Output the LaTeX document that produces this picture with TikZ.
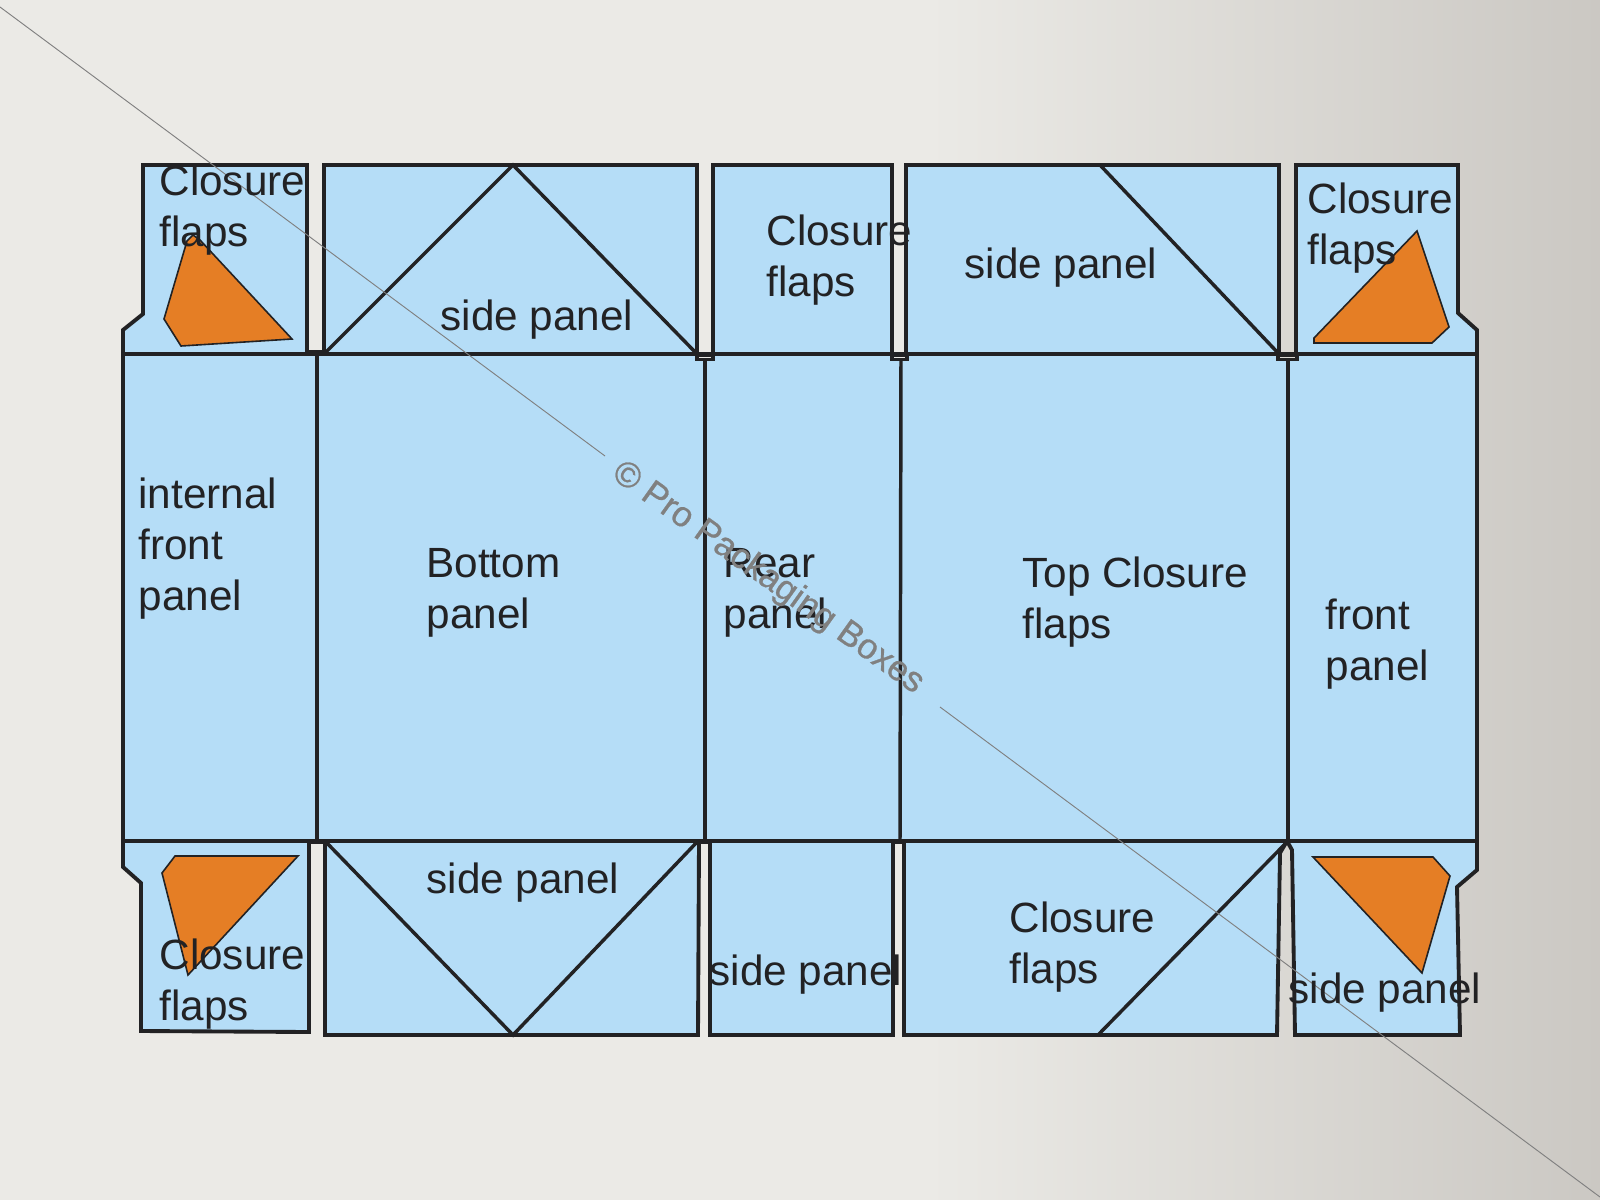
\documentclass[tikz,border=0pt]{standalone}
\usepackage{fontspec}
\setmainfont{Liberation Sans}
\newfontfamily\markfont[FakeBold=0.8]{Liberation Sans}
\definecolor{wallLight}{RGB}{235,234,230}
\definecolor{wallDark}{RGB}{203,200,195}
\definecolor{panelBlue}{RGB}{181,221,247}
\definecolor{flapOrange}{RGB}{229,126,37}
\definecolor{inkDark}{RGB}{34,34,36}
\definecolor{markGray}{RGB}{128,128,128}
\pgfdeclarehorizontalshading{wallShade}{100bp}{color(0bp)=(wallLight); color(54bp)=(wallLight); color(75bp)=(wallDark); color(100bp)=(wallDark)}
\tikzset{every picture/.style={line width=0.75pt}}
\tikzset{
  panel/.style={draw=inkDark,line width=2.9pt,fill=panelBlue,line join=miter},
  fold/.style={draw=inkDark,line width=2.6pt},
  slot/.style={draw=inkDark,line width=2.6pt,fill=wallLight},
  wedge/.style={draw=inkDark,line width=1.2pt,fill=flapOrange,line join=miter},
  label/.style={anchor=base west,inner sep=0pt,align=left,text=inkDark,font=\fontsize{31.7}{38.25}\selectfont},
  hairline/.style={draw=markGray,line width=0.7pt},
}

\begin{document}
\begin{tikzpicture}[x=0.75pt,y=0.75pt,yscale=-1,xscale=1]
\useasboundingbox (0,0) rectangle (1600,1200);

%Shape: Rectangle (background)
\shade [shading=wallShade] (0,0) rectangle (1600,1200);

%Shape: Polygon (top flaps)
\draw [panel] (143,165) -- (307,165) -- (307,354) -- (123,354) -- (123,330) -- (143,314) -- cycle ;
\draw [panel] (324,165) -- (697,165) -- (697,354) -- (324,354) -- cycle ;
\draw [panel] (713,165) -- (892,165) -- (892,354) -- (713,354) -- cycle ;
\draw [panel] (906,165) -- (1279,165) -- (1279,354) -- (906,354) -- cycle ;
\draw [panel] (1296,165) -- (1458,165) -- (1458,313) -- (1477,330) -- (1477,354) -- (1296,354) -- cycle ;

%Shape: Polygon (bottom flaps)
\draw [panel] (123,841) -- (309,841) -- (309,1032) -- (141,1031) -- (141,883) -- (123,867) -- cycle ;
\draw [panel] (325,841) -- (699,841) -- (698,1035) -- (325,1035) -- cycle ;
\draw [panel] (710,841) -- (893,841) -- (893,1035) -- (710,1035) -- cycle ;
\draw [panel] (904,841) -- (1287,841) -- (1280,853) -- (1277,1035) -- (904,1035) -- cycle ;
\draw [panel] (1287,841) -- (1477,841) -- (1477,870) -- (1457,887) -- (1460,1035) -- (1295,1035) -- (1292,850) -- cycle ;

%Shape: Rectangle (main row)
\draw [panel] (123,354) rectangle (1477,841) ;

%Straight Lines
\draw [fold] (317,354) -- (317,841) ;
\draw [fold] (705,354) -- (705,841) ;
\draw [fold] (901,354) -- (900,841) ;
\draw [fold] (1288,354) -- (1288,841) ;

%Straight Lines (creases on side panels)
\draw [fold] (324,354) -- (513,165) -- (697,354) ;
\draw [fold] (1100,165) -- (1279,354) ;
\draw [fold] (325,841) -- (513,1035) -- (698,841) ;
\draw [fold] (1098,1035) -- (1287,842) ;

%Shape: Rectangle (slots)
\draw [slot] (697,355) rectangle (713,359.5) ;
\draw [slot] (892,355) rectangle (907,359.5) ;
\draw [slot,fill=wallDark!45!wallLight] (1278,355) rectangle (1297,359.5) ;
\fill [inkDark] (307,350) rectangle (324,355) ;
\fill [inkDark] (309,840) rectangle (325,844) ;
\fill [inkDark] (697,840) rectangle (712,844) ;
\fill [inkDark] (892,840) rectangle (906,844) ;

%Shape: Polygon (orange wedges)
\draw [wedge] (187,241) -- (193,235) -- (200,240) -- (292,339) -- (181,346) -- (164,319) -- cycle ;
\draw [wedge] (1417,231) -- (1449,327) -- (1432,343) -- (1314,343) -- (1314,338) -- cycle ;
\draw [wedge] (175,856) -- (298,856) -- (188,975) -- (162,873) -- cycle ;
\draw [wedge] (1313,857) -- (1433,857) -- (1450,876) -- (1422,973) -- cycle ;

%Straight Lines (diagonal)
\coordinate (hairA) at (0,7);
\coordinate (hairB) at (605,456);
\coordinate (hairC) at (940,707);
\coordinate (hairD) at (1600,1197);
\draw [hairline] (hairA) -- (hairB) ;
\draw [hairline] (hairC) -- (hairD) ;

% Text Node
\node (closureTL) [label] at (159,246) {Closure\\flaps};
% Text Node
\node (sideTop) [label] at (440,330) {side panel};
% Text Node
\node (closureTop) [label] at (766,296) {Closure\\flaps};
% Text Node
\node (sideTopB) [label] at (964,278) {side panel};
% Text Node
\node (closureTR) [label] at (1307,264) {Closure\\flaps};
% Text Node
\node (internalFront) [label] at (138,610) {internal\\front\\panel};
% Text Node
\node (bottomPanel) [label] at (426,628) {Bottom\\panel};
% Text Node
\node (rearPanel) [label] at (723,628) {Rear\\panel};
% Text Node
\node (topClosure) [label] at (1022,638) {Top Closure\\flaps};
% Text Node
\node (frontPanel) [label] at (1325,680) {front\\panel};
% Text Node
\node (sideBottom) [label] at (426,893) {side panel};
% Text Node
\node (closureBL) [label] at (159,1020) {Closure\\flaps};
% Text Node
\node (sideBottomB) [label] at (709,985) {side panel};
% Text Node
\node (closureBottom) [label] at (1009,983) {Closure\\flaps};
% Text Node
\node (sideBR) [label] at (1288,1003) {side panel};
% Text Node
\node (watermark) [anchor=base west,inner sep=0pt,text=markGray,rotate=-35.5,font=\markfont\fontsize{26.5}{30}\selectfont] at (610,477) {© Pro Packaging Boxes};

\end{tikzpicture}
\end{document}
